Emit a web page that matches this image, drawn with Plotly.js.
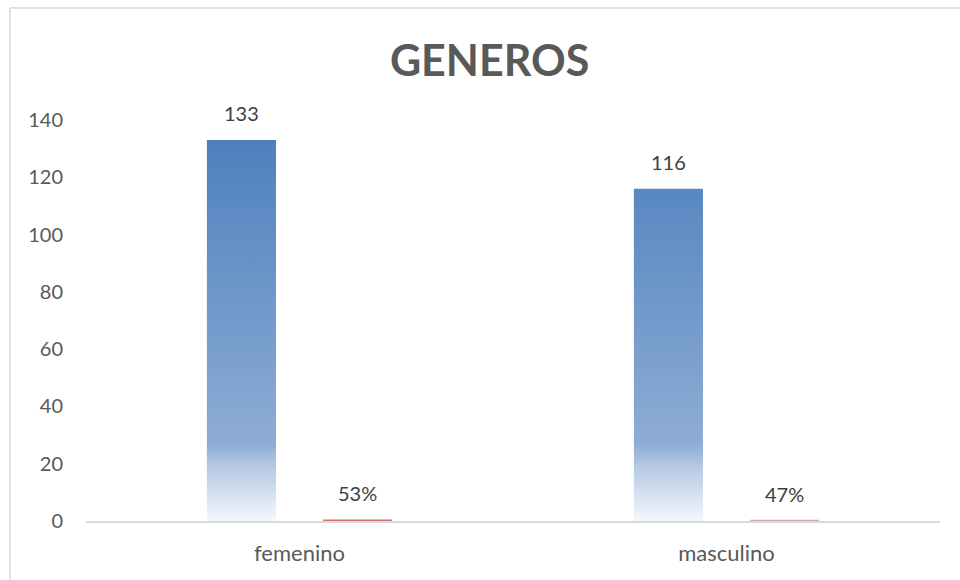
<!DOCTYPE html>
<html>
<head>
<meta charset="utf-8">
<script src="https://cdn.plot.ly/plotly-3.0.1.min.js"></script>
<style>
html,body{margin:0;padding:0;background:#fff;}
#chart{width:960px;height:580px;}
</style>
</head>
<body>
<div id="chart"></div>
<script>
// ---- data ----
const categories = ["femenino", "masculino"];
const counts = [133, 116];
const shares = [0.53, 0.47];
const countLabels = ["133", "116"];
const shareLabels = ["53%", "47%"];
const titleText = "GENEROS";
const yTicks = [0, 20, 40, 60, 80, 100, 120, 140];

const FONT = "Lato, 'Open Sans', sans-serif";
const TXT = "#595959";

const traces = [
  {
    type: "bar", x: categories, y: counts, name: "cantidad",
    marker: {color: "#4f81bd"}, hoverinfo: "none"
  },
  {
    type: "bar", x: categories, y: shares, name: "porcentaje",
    marker: {color: ["#d47370", "#dba3a2"]}, hoverinfo: "none"
  }
];

const offset = 0.136;
const annotations = [];
categories.forEach((c, i) => {
  annotations.push({
    x: i - offset, y: counts[i], xref: "x", yref: "y",
    text: countLabels[i], showarrow: false, yanchor: "bottom", yshift: 13,
    font: {family: FONT, size: 20, color: "#404040"}
  });
  annotations.push({
    x: i + offset, y: shares[i], xref: "x", yref: "y",
    text: shareLabels[i], showarrow: false, yanchor: "bottom", yshift: 12,
    font: {family: FONT, size: 20, color: "#404040"}
  });
});

const layout = {
  width: 960, height: 580,
  margin: {l: 86, r: 20, t: 120, b: 59},
  paper_bgcolor: "#ffffff", plot_bgcolor: "#ffffff",
  showlegend: false,
  barmode: "group", bargap: 0.456, bargroupgap: 0.405,
  title: {
    text: "<b>" + titleText + "</b>",
    font: {family: FONT, size: 43, color: TXT},
    xref: "container", yref: "container", x: 0.51, y: 0.895,
    xanchor: "center", yanchor: "middle"
  },
  xaxis: {
    type: "category", showgrid: false, zeroline: false,
    showline: true, linecolor: "#d9d9d9", linewidth: 1.5,
    ticks: "", ticklabelstandoff: 12,
    tickfont: {family: FONT, size: 22, color: TXT}
  },
  yaxis: {
    range: [0, 140], tickvals: yTicks, ticktext: yTicks.map(String),
    showgrid: false, zeroline: false, showline: false, ticks: "",
    ticklabelstandoff: 22,
    tickfont: {family: FONT, size: 20, color: TXT}
  },
  annotations: annotations,
  shapes: [
    {type: "line", xref: "paper", yref: "paper",
     x0: (10 - 86) / 854, x1: (962 - 86) / 854, y0: (521 - 8) / 401, y1: (521 - 8) / 401,
     line: {color: "#d9d9d9", width: 1.5}},
    {type: "line", xref: "paper", yref: "paper",
     x0: (10 - 86) / 854, x1: (10 - 86) / 854, y0: (521 - 8) / 401, y1: (521 - 590) / 401,
     line: {color: "#d9d9d9", width: 1.5}}
  ]
};

Plotly.newPlot("chart", traces, layout, {displayModeBar: false, staticPlot: true}).then(gd => {
  const svg = gd.querySelector(".main-svg");
  const defs = svg.querySelector("defs");
  const NS = "http://www.w3.org/2000/svg";
  const plotH = gd._fullLayout._size.h;
  function grad(id, stops) {
    const g = document.createElementNS(NS, "linearGradient");
    g.setAttribute("id", id);
    g.setAttribute("gradientUnits", "userSpaceOnUse");
    g.setAttribute("x1", 0); g.setAttribute("x2", 0);
    g.setAttribute("y1", 0); g.setAttribute("y2", plotH);
    stops.forEach(s => {
      const st = document.createElementNS(NS, "stop");
      st.setAttribute("offset", s[0]);
      st.setAttribute("stop-color", s[1]);
      g.appendChild(st);
    });
    defs.appendChild(g);
  }
  grad("blueGrad", [[0, "#4a7dbb"], [0.81, "#8eadd5"], [0.86, "#b4c7e2"], [1, "#f5f8fc"]]);
  const groups = gd.querySelectorAll(".barlayer .trace");
  if (groups[0]) groups[0].querySelectorAll("path").forEach(p => { p.style.fill = "url(#blueGrad)"; });
});
</script>
</body>
</html>
